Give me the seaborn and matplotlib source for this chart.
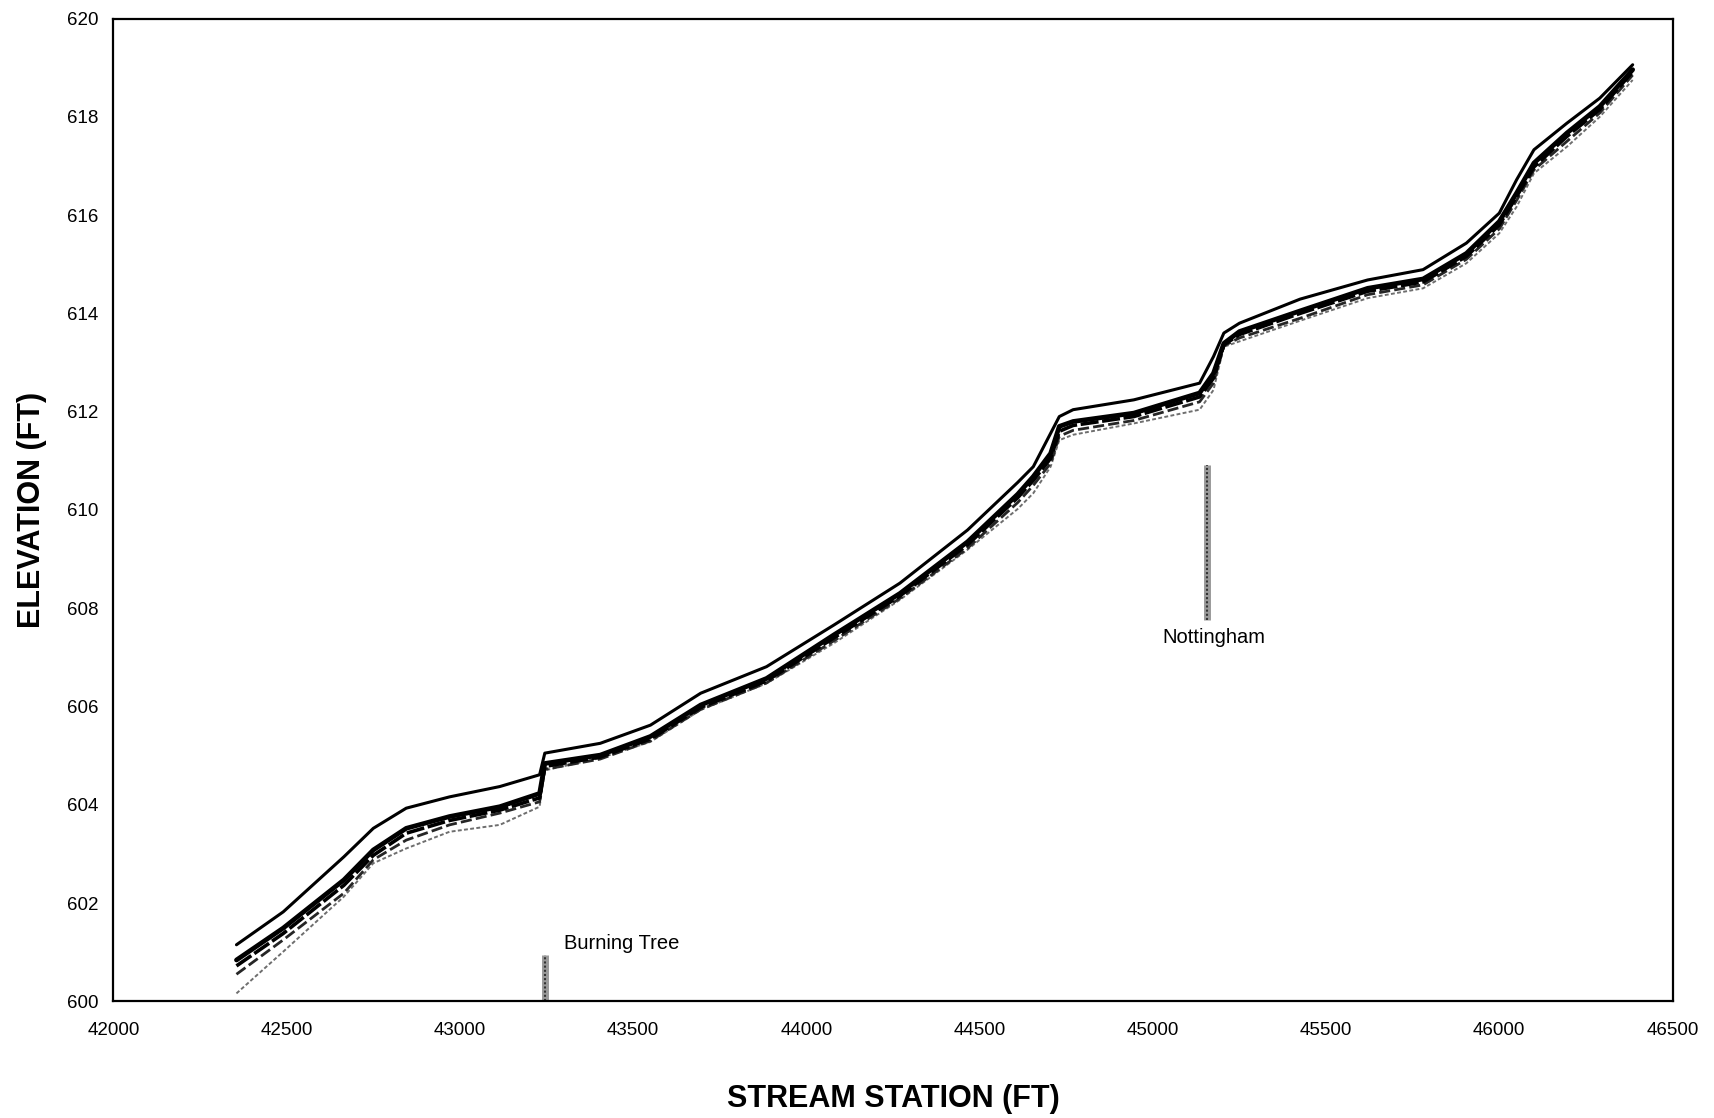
import pandas as pd
import numpy as np
import matplotlib
matplotlib.use('Agg')
import matplotlib.pyplot as plt
import seaborn as sns

# stream stations (ft) where the water surface profiles were read
stations = [42355, 42490, 42665, 42750, 42845, 42970, 43115, 43230, 43245, 43405,
            43550, 43695, 43885, 44080, 44270, 44465, 44610, 44655, 44705, 44730,
            44770, 44945, 45135, 45175, 45205, 45250, 45425, 45620, 45780, 45905,
            46000, 46050, 46100, 46195, 46290, 46385]

# water surface elevations (ft), one list per profile
wse_top = [601.15, 601.82, 602.94, 603.52, 603.93, 604.16, 604.37, 604.61, 605.05, 605.25,
           605.62, 606.27, 606.81, 607.66, 608.51, 609.59, 610.56, 610.88, 611.56, 611.90,
           612.04, 612.24, 612.58, 613.12, 613.60, 613.80, 614.29, 614.68, 614.89, 615.43,
           616.04, 616.72, 617.33, 617.87, 618.38, 619.06]
wse_main = [600.84, 601.49, 602.47, 603.08, 603.52, 603.76, 603.96, 604.23, 604.84, 605.01,
            605.39, 606.03, 606.57, 607.46, 608.30, 609.35, 610.32, 610.68, 611.15, 611.70,
            611.80, 611.97, 612.38, 612.78, 613.39, 613.63, 614.05, 614.51, 614.70, 615.22,
            615.87, 616.45, 617.06, 617.67, 618.21, 618.96]
wse_mid = [600.72, 601.38, 602.36, 602.97, 603.42, 603.68, 603.89, 604.14, 604.78, 604.97,
           605.34, 605.98, 606.52, 607.40, 608.25, 609.29, 610.25, 610.60, 611.05, 611.60,
           611.72, 611.90, 612.30, 612.68, 613.36, 613.57, 614.00, 614.45, 614.64, 615.16,
           615.80, 616.38, 616.98, 617.60, 618.15, 618.92]
wse_low = [600.55, 601.25, 602.20, 602.88, 603.28, 603.59, 603.83, 604.06, 604.72, 604.93,
           605.30, 605.94, 606.48, 607.34, 608.20, 609.22, 610.15, 610.50, 610.95, 611.50,
           611.62, 611.82, 612.20, 612.58, 613.34, 613.50, 613.90, 614.38, 614.58, 615.10,
           615.72, 616.30, 616.92, 617.50, 618.08, 618.85]
wse_bottom = [600.16, 601.01, 602.13, 602.81, 603.11, 603.45, 603.59, 603.96, 604.70, 604.95,
              605.28, 605.93, 606.47, 607.29, 608.17, 609.19, 610.02, 610.34, 610.88, 611.42,
              611.53, 611.76, 612.04, 612.44, 613.32, 613.43, 613.85, 614.31, 614.51, 615.02,
              615.63, 616.17, 616.85, 617.39, 618.00, 618.75]

# bridges
bridge_names = ['Burning Tree', 'Nottingham']
bridge_station = [43245, 45155]
bridge_low = [600.0, 607.75]
bridge_high = [600.95, 610.92]

x_ticks = [42000, 42500, 43000, 43500, 44000, 44500, 45000, 45500, 46000, 46500]
y_ticks = [600, 602, 604, 606, 608, 610, 612, 614, 616, 618, 620]

profiles = {'top': wse_top, 'main': wse_main, 'mid': wse_mid,
            'low': wse_low, 'bottom': wse_bottom}
df = pd.concat([pd.DataFrame({'station': stations, 'elev': v, 'profile': k})
                for k, v in profiles.items()], ignore_index=True)

styles = {
    'top':    dict(color='black', linewidth=2.2, linestyle='-'),
    'main':   dict(color='black', linewidth=3.4, linestyle='-'),
    'mid':    dict(color='black', linewidth=2.6, linestyle=(0, (5, 1))),
    'low':    dict(color='#262626', linewidth=2.0, linestyle=(0, (4, 1.5))),
    'bottom': dict(color='#6e6e6e', linewidth=1.4, linestyle=(0, (2, 1.2))),
}

sns.set_style('white')
plt.rcParams['font.family'] = ['Liberation Sans', 'DejaVu Sans']
plt.rcParams['text.color'] = 'black'
plt.rcParams['axes.labelcolor'] = 'black'
plt.rcParams['xtick.color'] = 'black'
plt.rcParams['ytick.color'] = 'black'

fig = plt.figure(figsize=(17.14, 11.18), dpi=100)
ax = fig.add_axes([0.0662, 0.1044, 0.9096, 0.879])

for name in ['bottom', 'low', 'mid', 'main', 'top']:
    sns.lineplot(data=df[df['profile'] == name], x='station', y='elev', ax=ax,
                 sort=False, estimator=None, legend=False, **styles[name])

# bridge openings, drawn as hatched grey bars
ax.vlines(bridge_station, bridge_low, bridge_high, color='#9a9a9a', linewidth=5)
ax.vlines(bridge_station, bridge_low, bridge_high, color='#333333', linewidth=1.5,
          linestyles=(0, (1, 1)))

ax.annotate(bridge_names[0], (bridge_station[0], bridge_high[0]), xytext=(14, 8),
            textcoords='offset points', fontsize=14.5, ha='left', va='center')
ax.annotate(bridge_names[1], (bridge_station[1], bridge_low[1]), xytext=(5, -12),
            textcoords='offset points', fontsize=14.5, ha='center', va='center')

ax.set_xlim(42000, 46500)
ax.set_ylim(600, 620)
ax.set_xticks(x_ticks)
ax.set_yticks(y_ticks)
ax.tick_params(axis='both', direction='inout', length=6, width=1.2, color='black',
               labelsize=13.5, labelcolor='black')
ax.tick_params(axis='x', pad=12)
ax.tick_params(axis='y', pad=8)
for s in ax.spines.values():
    s.set_color('black')
    s.set_linewidth(1.6)

ax.set_xlabel('STREAM STATION (FT)', fontsize=22, fontweight='bold', labelpad=32)
ax.set_ylabel('ELEVATION (FT)', fontsize=22, fontweight='bold', labelpad=14)

plt.savefig('out.png', dpi=100)
